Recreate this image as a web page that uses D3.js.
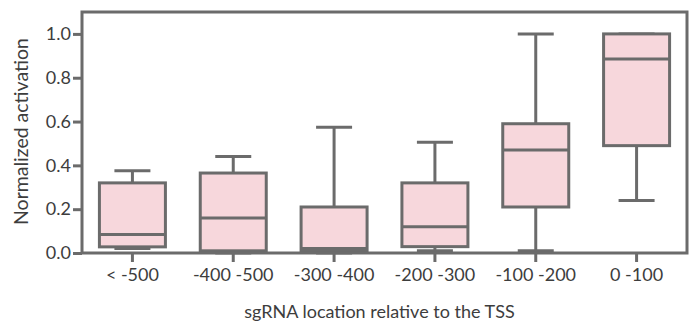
<!DOCTYPE html>
<html>
<head>
<meta charset="utf-8">
<script src="https://cdn.jsdelivr.net/npm/d3@7"></script>
<style>
  body { margin: 0; background: #fff; }
  svg { display: block; }
  .axis text { font-family: Lato, "Open Sans", sans-serif; font-size: 18px; fill: #3d3d3d; }
  .axis path, .axis line { stroke: #6b6b6b; stroke-width: 3; }
</style>
</head>
<body>
<div id="chart"></div>
<script>
// Data
const categories = ['< -500', '-400 -500', '-300 -400', '-200 -300', '-100 -200', '0 -100'];
const whiskerLow = [0.02, 0.0, 0.0, 0.01, 0.01, 0.24];
const q1 = [0.028, 0.01, 0.01, 0.029, 0.21, 0.49];
const median = [0.085, 0.16, 0.02, 0.12, 0.47, 0.885];
const q3 = [0.32, 0.365, 0.21, 0.32, 0.59, 1.0];
const whiskerHigh = [0.375, 0.44, 0.574, 0.505, 1.0, 1.0];
const yTicks = [0, 0.2, 0.4, 0.6, 0.8, 1.0];

const data = categories.map((c, i) => ({
    cat: c, lo: whiskerLow[i], q1: q1[i], med: median[i], q3: q3[i], hi: whiskerHigh[i]
}));

const W = 698, H = 328;
const margin = { top: 12, right: 11, bottom: 75, left: 82 };
const width = W - margin.left - margin.right;
const height = H - margin.top - margin.bottom;

const stroke = '#6b6b6b';
const fill = '#f7d7dc';

const svg = d3.select('#chart').append('svg')
    .attr('width', W).attr('height', H)
    .append('g')
    .attr('transform', `translate(${margin.left},${margin.top})`);

const x = d3.scaleBand().domain(categories).range([0, width]).paddingInner(0).paddingOuter(0);
const y = d3.scaleLinear().domain([0, 1.1]).range([height, 0]);

const boxW = 66, capW = 36;

// Boxes
const g = svg.selectAll('.box').data(data).enter().append('g')
    .attr('transform', d => `translate(${x(d.cat) + x.bandwidth() / 2},0)`);

g.append('line')
    .attr('x1', 0).attr('x2', 0)
    .attr('y1', d => y(d.q3)).attr('y2', d => y(d.hi))
    .attr('stroke', stroke).attr('stroke-width', 3);
g.append('line')
    .attr('x1', 0).attr('x2', 0)
    .attr('y1', d => y(d.q1)).attr('y2', d => y(d.lo))
    .attr('stroke', stroke).attr('stroke-width', 3);
g.append('line')
    .attr('x1', -capW / 2).attr('x2', capW / 2)
    .attr('y1', d => y(d.hi)).attr('y2', d => y(d.hi))
    .attr('stroke', stroke).attr('stroke-width', 3);
g.append('line')
    .attr('x1', -capW / 2).attr('x2', capW / 2)
    .attr('y1', d => y(d.lo)).attr('y2', d => y(d.lo))
    .attr('stroke', stroke).attr('stroke-width', 3);
g.append('rect')
    .attr('x', -boxW / 2).attr('width', boxW)
    .attr('y', d => y(d.q3)).attr('height', d => y(d.q1) - y(d.q3))
    .attr('fill', fill).attr('stroke', stroke).attr('stroke-width', 3);
g.append('line')
    .attr('x1', -boxW / 2).attr('x2', boxW / 2)
    .attr('y1', d => y(d.med)).attr('y2', d => y(d.med))
    .attr('stroke', stroke).attr('stroke-width', 3);

// Frame
svg.append('rect')
    .attr('x', 0).attr('y', 0).attr('width', width).attr('height', height)
    .attr('fill', 'none').attr('stroke', stroke).attr('stroke-width', 3);

// Axes
svg.append('g').attr('class', 'axis')
    .call(d3.axisLeft(y).tickValues(yTicks).tickFormat(d3.format('.1f')).tickSize(9).tickSizeOuter(0).tickPadding(2))
    .call(a => a.select('.domain').remove());

svg.append('g').attr('class', 'axis')
    .attr('transform', `translate(0,${height})`)
    .call(d3.axisBottom(x).tickSize(9).tickSizeOuter(0).tickPadding(6))
    .call(a => a.select('.domain').remove());

// Axis titles
svg.append('text')
    .attr('transform', 'rotate(-90)')
    .attr('x', -119.5).attr('y', -54)
    .attr('text-anchor', 'middle')
    .style('font-family', 'Lato, "Open Sans", sans-serif')
    .style('font-size', '19.5px').style('fill', '#3d3d3d')
    .text('Normalized activation');

svg.append('text')
    .attr('x', width / 2 - 5).attr('y', height + 65)
    .attr('text-anchor', 'middle')
    .style('font-family', 'Lato, "Open Sans", sans-serif')
    .style('font-size', '18px').style('fill', '#3d3d3d')
    .text('sgRNA location relative to the TSS');
</script>
</body>
</html>
